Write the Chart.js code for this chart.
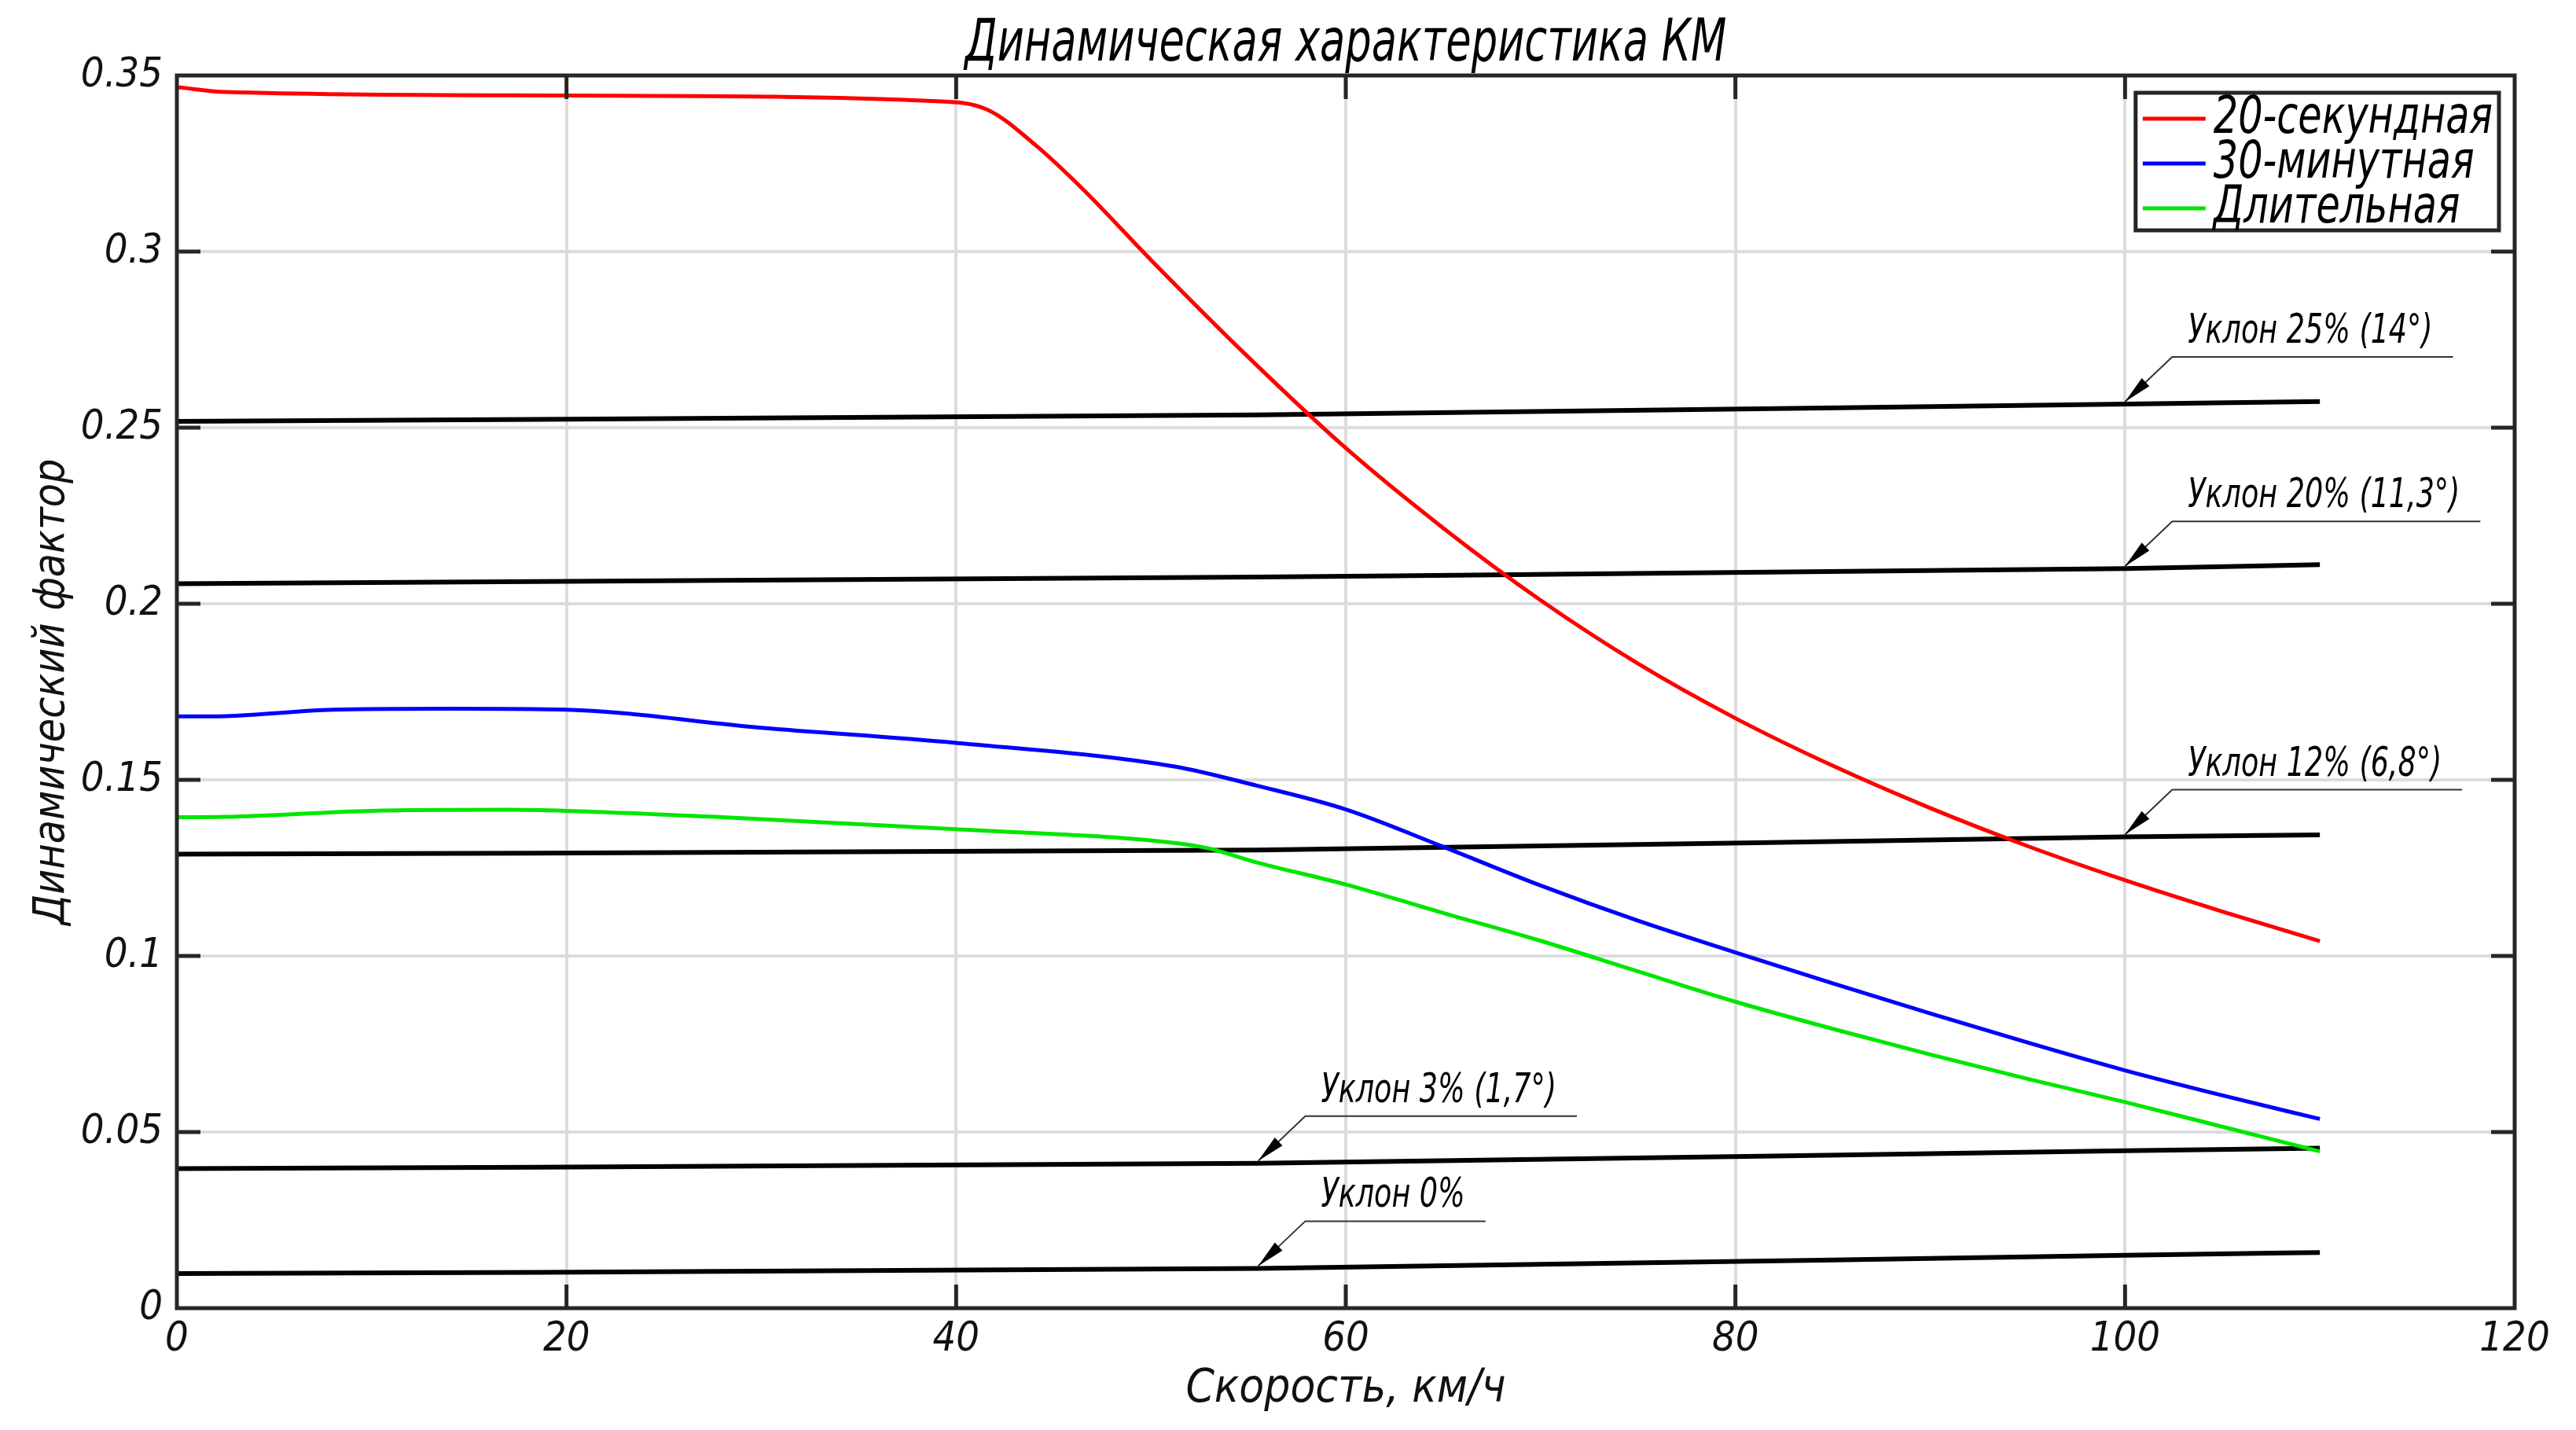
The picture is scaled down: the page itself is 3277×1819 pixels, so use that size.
<!DOCTYPE html>
<html lang="ru">
<head>
<meta charset="utf-8">
<title>Динамическая характеристика КМ</title>
<script src="https://cdn.jsdelivr.net/npm/chart.js@4.4.1/dist/chart.umd.min.js"></script>
<style>
  html, body { margin: 0; padding: 0; background: #fff; }
  #wrap { width: 3277px; height: 1819px; }
</style>
</head>
<body>
<div id="wrap"><canvas id="dynChart" width="3277" height="1819"></canvas></div>
<script>
const FONT = '"Liberation Sans Narrow", "DejaVu Sans Condensed", "Arial Narrow", sans-serif';

const chartTitle = 'Динамическая характеристика КМ';
const xTitle = 'Скорость, км/ч';
const yTitle = 'Динамический фактор';

const speedTicks = [0, 20, 40, 60, 80, 100, 120];
const dynTicks = [0, 0.05, 0.1, 0.15, 0.2, 0.25, 0.3, 0.35];

// тяговые режимы
const seriesNames = ['20-секундная', '30-минутная', 'Длительная'];

const speed20s = [0, 2.5, 20, 39, 41.6, 44.1, 46.6, 50, 55, 60, 65, 70, 75, 80, 85, 90, 95, 100, 105, 110];
const dyn20s = [0.3467, 0.3453, 0.3443, 0.3427, 0.3403, 0.3301, 0.3172, 0.2976, 0.2700, 0.2442, 0.2215, 0.2010, 0.1830, 0.1675, 0.1540, 0.1420, 0.1312, 0.1215, 0.1126, 0.1042];

const speed30m = [0, 2.5, 8, 14, 20, 30, 40, 51.2, 55.4, 60, 65, 70, 75, 80, 85, 90, 95, 100, 105, 110];
const dyn30m = [0.1680, 0.1681, 0.1699, 0.1702, 0.1699, 0.1648, 0.1605, 0.1538, 0.1484, 0.1416, 0.1310, 0.1200, 0.1100, 0.1010, 0.0922, 0.0837, 0.0754, 0.0675, 0.0604, 0.0537];

const speedLong = [0, 2.5, 10, 17, 20, 28, 40, 51.2, 53, 55.4, 60, 65, 70, 75, 80, 85, 90, 95, 100, 105, 110];
const dynLong = [0.1394, 0.1395, 0.1412, 0.1415, 0.1412, 0.1394, 0.1360, 0.1321, 0.1305, 0.1266, 0.1203, 0.1122, 0.1043, 0.0956, 0.0870, 0.0793, 0.0720, 0.0651, 0.0585, 0.0515, 0.0445];

// сопротивление движению на уклонах
const speedGrade = [0, 55.5, 100, 110];
const grade25 = [0.2518, 0.2536, 0.2567, 0.2574];
const grade20 = [0.2057, 0.2076, 0.2100, 0.2111];
const grade12 = [0.1289, 0.1301, 0.1338, 0.1344];
const grade3 = [0.0396, 0.0411, 0.0447, 0.0454];
const grade0 = [0.0098, 0.0113, 0.0150, 0.0158];

const gradeNotes = ['Уклон 25% (14°)', 'Уклон 20% (11,3°)', 'Уклон 12% (6,8°)', 'Уклон 3% (1,7°)', 'Уклон 0%'];
const gradeNoteAt = [2, 2, 2, 1, 1]; // индекс точки, куда указывает стрелка

const toPoints = (xs, ys) => xs.map((x, i) => ({ x, y: ys[i] }));

// узкий чертёжный шрифт: сжимаем текст по горизонтали
function fillNarrow(ctx, text, x, y, sx) {
    ctx.save();
    ctx.translate(x, y);
    ctx.scale(sx, 1);
    ctx.fillText(text, 0, 0);
    ctx.restore();
}

function tractionSet(label, xs, ys, color) {
    return {
        label,
        data: toPoints(xs, ys),
        borderColor: color,
        borderWidth: 5,
        cubicInterpolationMode: 'monotone',
        inLegend: true,
    };
}

function gradeSet(ys, i) {
    return {
        label: gradeNotes[i],
        data: toPoints(speedGrade, ys),
        borderColor: '#000',
        borderWidth: 6,
        cubicInterpolationMode: 'monotone',
        note: gradeNotes[i],
        noteAt: gradeNoteAt[i],
    };
}

// рамка и внутренние засечки по всем четырём сторонам
const framePlugin = {
    id: 'frame',
    afterDatasetsDraw(chart) {
        const { ctx, chartArea: a, scales: { x, y } } = chart;
        const len = 30;
        ctx.save();
        ctx.strokeStyle = '#262626';
        ctx.lineWidth = 5;
        ctx.beginPath();
        speedTicks.forEach((v) => {
            if (v === x.min || v === x.max) return;
            const px = x.getPixelForValue(v);
            ctx.moveTo(px, a.bottom); ctx.lineTo(px, a.bottom - len);
            ctx.moveTo(px, a.top); ctx.lineTo(px, a.top + len);
        });
        dynTicks.forEach((v) => {
            if (v === y.min || v === y.max) return;
            const py = y.getPixelForValue(v);
            ctx.moveTo(a.left, py); ctx.lineTo(a.left + len, py);
            ctx.moveTo(a.right, py); ctx.lineTo(a.right - len, py);
        });
        ctx.stroke();
        ctx.strokeRect(a.left, a.top, a.width, a.height);
        ctx.restore();
    },
};

// выноски с подписями уклонов
const gradeNotePlugin = {
    id: 'gradeNotes',
    afterDatasetsDraw(chart) {
        const { ctx } = chart;
        const sx = 0.78;
        ctx.save();
        ctx.font = `italic 52px ${FONT}`;
        ctx.textAlign = 'left';
        ctx.textBaseline = 'alphabetic';
        chart.data.datasets.forEach((d, i) => {
            if (!d.note) return;
            const tip = chart.getDatasetMeta(i).data[d.noteAt];
            const tx0 = tip.x, ty0 = tip.y - 3;
            const kx = tx0 + 60, ky = ty0 - 57;
            const textX = kx + 20;
            const tw = ctx.measureText(d.note).width * sx;

            ctx.strokeStyle = '#333';
            ctx.lineWidth = 2;
            ctx.beginPath();
            ctx.moveTo(tx0, ty0);
            ctx.lineTo(kx, ky);
            ctx.lineTo(textX + tw + 26, ky);
            ctx.stroke();

            const ang = Math.atan2(ky - ty0, kx - tx0);
            const L = 36, W = 7;
            const bx = tx0 + Math.cos(ang) * L, by = ty0 + Math.sin(ang) * L;
            const nx = -Math.sin(ang) * W, ny = Math.cos(ang) * W;
            ctx.fillStyle = '#000';
            ctx.beginPath();
            ctx.moveTo(tx0, ty0);
            ctx.lineTo(bx + nx, by + ny);
            ctx.lineTo(bx - nx, by - ny);
            ctx.closePath();
            ctx.fill();

            fillNarrow(ctx, d.note, textX, ky - 18, sx);
        });
        ctx.restore();
    },
};

// заголовок и легенда в рамке
const titleLegendPlugin = {
    id: 'titleLegend',
    afterDraw(chart) {
        const { ctx, chartArea: a } = chart;
        ctx.save();

        ctx.fillStyle = '#000';
        ctx.font = `italic 74px ${FONT}`;
        ctx.textAlign = 'center';
        ctx.textBaseline = 'alphabetic';
        fillNarrow(ctx, chartTitle, (a.left + a.right) / 2, 77, 0.79);

        const items = chart.data.datasets.filter((d) => d.inLegend);
        const sx = 0.83;
        ctx.font = `italic 66px ${FONT}`;
        const textW = Math.max(...items.map((d) => ctx.measureText(d.label).width)) * sx;
        const padX = 9, sample = 80, gap = 10, rowH = 57;
        const w = padX + sample + gap + textW + 8;
        const h = 175;
        const right = a.right - 20, top = a.top + 22;
        const left = right - w;

        ctx.fillStyle = '#fff';
        ctx.fillRect(left, top, w, h);
        ctx.strokeStyle = '#262626';
        ctx.lineWidth = 5;
        ctx.strokeRect(left, top, w, h);

        ctx.textAlign = 'left';
        ctx.textBaseline = 'middle';
        items.forEach((d, i) => {
            const cy = top + 33 + i * rowH;
            ctx.strokeStyle = d.borderColor;
            ctx.lineWidth = 5;
            ctx.beginPath();
            ctx.moveTo(left + padX, cy);
            ctx.lineTo(left + padX + sample, cy);
            ctx.stroke();
            ctx.fillStyle = '#000';
            fillNarrow(ctx, d.label, left + padX + sample + gap, cy + 1, sx);
        });
        ctx.restore();
    },
};

const tickFont = { family: FONT, size: 52, style: 'italic', lineHeight: 1 };

new Chart(document.getElementById('dynChart').getContext('2d'), {
    type: 'line',
    data: {
        datasets: [
            tractionSet(seriesNames[0], speed20s, dyn20s, '#ff0000'),
            tractionSet(seriesNames[1], speed30m, dyn30m, '#0000ff'),
            tractionSet(seriesNames[2], speedLong, dynLong, '#00e600'),
            gradeSet(grade25, 0),
            gradeSet(grade20, 1),
            gradeSet(grade12, 2),
            gradeSet(grade3, 3),
            gradeSet(grade0, 4),
        ],
    },
    options: {
        responsive: false,
        animation: false,
        layout: { padding: { top: 96, right: 78, left: 0, bottom: 0 } },
        elements: { point: { radius: 0 } },
        plugins: {
            legend: { display: false },
            title: { display: false },
            tooltip: { enabled: false },
        },
        scales: {
            x: {
                type: 'linear',
                min: 0,
                max: 120,
                afterBuildTicks: (s) => { s.ticks = speedTicks.map((value) => ({ value })); },
                afterFit: (s) => { s.height = 155; },
                border: { display: false },
                grid: { color: '#dcdcdc', lineWidth: 4, drawTicks: false },
                ticks: { padding: 14, color: '#111', font: tickFont, callback: (v) => String(v) },
                title: {
                    display: true, text: xTitle, color: '#111',
                    font: { family: FONT, size: 58, style: 'italic', lineHeight: 1.2 },
                    padding: { top: 0, bottom: 16 },
                },
            },
            y: {
                type: 'linear',
                min: 0,
                max: 0.35,
                afterBuildTicks: (s) => { s.ticks = dynTicks.map((value) => ({ value })); },
                afterFit: (s) => { s.width = 225; },
                border: { display: false },
                grid: { color: '#dcdcdc', lineWidth: 4, drawTicks: false },
                ticks: { padding: 18, color: '#111', font: tickFont, callback: (v) => String(v) },
                title: {
                    display: true, text: yTitle, color: '#111',
                    font: { family: FONT, size: 55, style: 'italic', lineHeight: 1.2 },
                    padding: { top: 34, bottom: 0 },
                },
            },
        },
    },
    plugins: [framePlugin, gradeNotePlugin, titleLegendPlugin],
});
</script>
</body>
</html>
